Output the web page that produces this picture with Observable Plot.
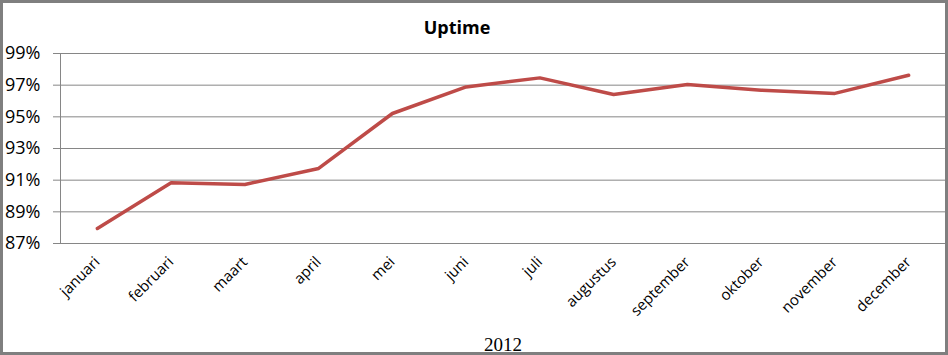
<!DOCTYPE html>
<html>
<head>
<meta charset="utf-8">
<script src="https://cdn.jsdelivr.net/npm/d3@7"></script>
<script src="https://cdn.jsdelivr.net/npm/@observablehq/plot@0.6"></script>
<style>
  html, body { margin: 0; padding: 0; background: #fff; }
  #chart svg { display: block; outline: 3px solid #7f7f7f; outline-offset: -3px; }
</style>
</head>
<body>
<div id="chart"></div>
<script>
const title = "Uptime";
const xTitle = "2012";
const months = ["januari", "februari", "maart", "april", "mei", "juni", "juli", "augustus", "september", "oktober", "november", "december"];
const uptime = [0.8795, 0.9083, 0.9073, 0.9174, 0.9521, 0.9689, 0.9746, 0.9641, 0.9704, 0.9668, 0.9648, 0.9763];
const yTicks = [0.87, 0.89, 0.91, 0.93, 0.95, 0.97, 0.99];

const data = months.map((m, i) => ({i, month: m, value: uptime[i]}));
const monthIdx = months.map((m, i) => i);

const chart = Plot.plot({
  width: 948,
  height: 355,
  marginLeft: 60,
  marginRight: 3,
  marginTop: 53,
  marginBottom: 112,
  style: {fontFamily: "'Open Sans', sans-serif", color: "#000", background: "#fff"},
  x: {domain: [-0.5, 11.5], axis: null},
  y: {domain: [0.87, 0.99], axis: null},
  marks: [
    Plot.ruleY(yTicks, {stroke: "#868686", strokeWidth: 1}),
    Plot.ruleX([-0.5], {stroke: "#868686", strokeWidth: 1}),
    Plot.axisY({ticks: yTicks, tickFormat: d3.format(".0%"), tickSize: 7, tickPadding: 13, fontSize: 18, stroke: "#868686", strokeOpacity: 1, label: null}),
    Plot.axisX({ticks: monthIdx, tickFormat: (i) => months[i], tickSize: 0, tickPadding: 16, tickRotate: -45, fontSize: 15, label: null}),
    Plot.lineY(data, {x: "i", y: "value", stroke: "#BE4B48", strokeWidth: 3.5}),
    Plot.text([title], {frameAnchor: "top", dx: -46, dy: -25, lineAnchor: "middle", fontSize: 18, fontWeight: "bold"}),
    Plot.text([xTitle], {frameAnchor: "bottom", dy: 101, lineAnchor: "middle", fontSize: 19, fontFamily: "'Liberation Serif', serif"})
  ]
});
document.getElementById("chart").append(chart);
</script>
</body>
</html>
